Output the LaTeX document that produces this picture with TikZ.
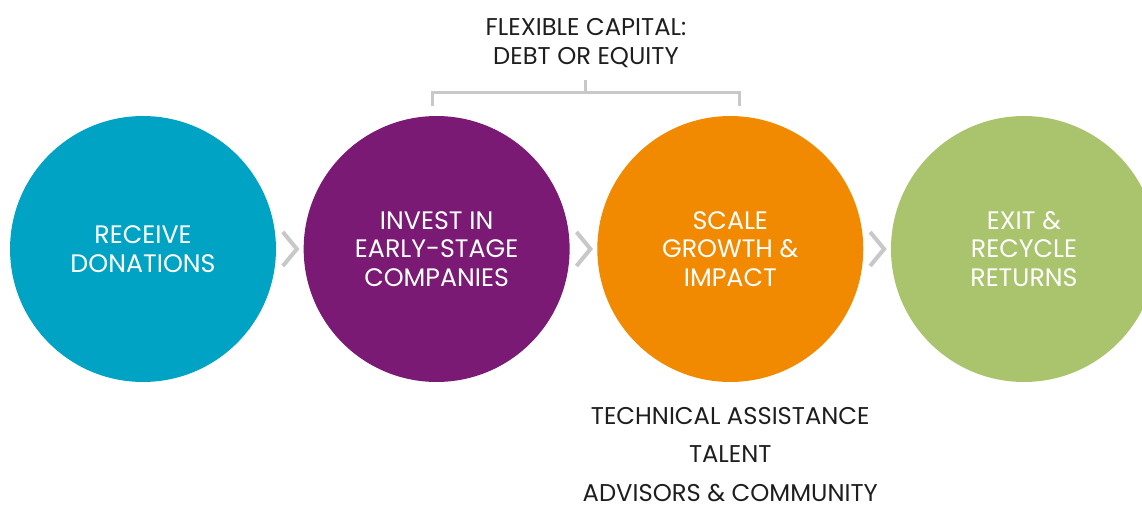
\documentclass[tikz,border=0pt]{standalone}
\usepackage{fontspec}
\setmainfont{Poppins}
\usetikzlibrary{positioning,calc}

\definecolor{donateblue}{RGB}{0,163,196}
\definecolor{investpurple}{RGB}{123,26,116}
\definecolor{scaleorange}{RGB}{241,138,0}
\definecolor{exitgreen}{RGB}{169,196,108}
\definecolor{linegray}{RGB}{200,200,200}
\definecolor{textdark}{RGB}{30,30,30}

\begin{document}
\begin{tikzpicture}[
    x=0.02cm, y=-0.02cm,
    node distance=0.54cm,
    stage/.style={circle, minimum size=5.32cm, inner sep=0pt, text=white, align=center, font=\fontsize{14.4}{16.4}\selectfont},
    chevron/.style={draw=linegray, line width=2.3pt},
    brace/.style={draw=linegray, line width=1.7pt},
    notetext/.style={align=center, inner sep=0pt, text=textdark, font=\fontsize{13.8}{16.5}\selectfont}
]
\useasboundingbox (0,0) rectangle (1142,507);

% Stages
\node[stage, fill=donateblue] (s1) at (143,249) {RECEIVE\\DONATIONS};
\node[stage, fill=investpurple, right=of s1] (s2) {INVEST IN\\EARLY-STAGE\\COMPANIES};
\node[stage, fill=scaleorange, right=of s2] (s3) {SCALE\\GROWTH \&\\IMPACT};
\node[stage, fill=exitgreen, right=of s3] (s4) {EXIT \&\\RECYCLE\\RETURNS};

% Chevrons between stages
\foreach \a/\b in {s1/s2, s2/s3, s3/s4}
  \draw[chevron] ($(\a.east)!0.5!(\b.west)$) ++(-7,-17) -- ++(14,17) -- ++(-14,17);

% Bracket over invest and scale
\coordinate (capl) at ($(s2.north)+(-4,-10)$);
\coordinate (capr) at ($(s3.north)+(9,-10)$);
\coordinate (capmid) at ($(capl)!0.5!(capr)+(0,-13)$);
\draw[brace] (capl) -- ++(0,-13) -| (capr);
\draw[brace] (capmid) -- ++(0,-13);

% Labels
\node[notetext] (capital) at ($(capmid)+(0,-50)$) {FLEXIBLE CAPITAL:\\DEBT OR EQUITY};
\node[notetext, font=\fontsize{13.8}{22}\selectfont] (support) at ($(s3.south)+(0,72)$) {TECHNICAL ASSISTANCE\\TALENT\\ADVISORS \& COMMUNITY};
\end{tikzpicture}
\end{document}
